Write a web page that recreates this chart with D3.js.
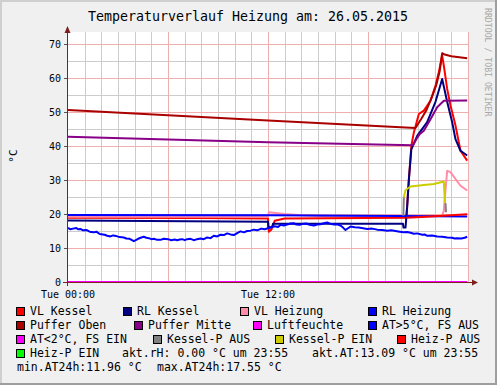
<!DOCTYPE html>
<html>
<head>
<meta charset="utf-8">
<script src="https://cdn.jsdelivr.net/npm/d3@7"></script>
<style>
  html, body { margin: 0; padding: 0; background: #f0f0f0; }
  svg { display: block; }
</style>
</head>
<body>
<div id="chart"></div>
<script>
// Temperaturverlauf Heizung - rrdtool style day graph
const title = "Temperaturverlauf Heizung am: 26.05.2015";
const yTicks = [0, 10, 20, 30, 40, 50, 60, 70];
const xLabels = [[0, "Tue 00:00"], [12, "Tue 12:00"]];

// series values: [hour, °C]
const vlKessel = [[0, 18.9], [7.8, 18.8], [12.0, 18.7], [12.05, 14.8], [12.2, 15.4], [12.4, 18.0], [13.0, 18.7],
  [20.3, 18.9], [20.45, 30], [20.6, 40], [20.75, 44], [21.05, 49.4], [21.35, 50.4], [21.75, 53.3], [22.05, 57.7],
  [22.25, 61.7], [22.45, 66.6], [22.55, 63.6], [22.75, 56.8], [22.95, 51.9], [23.25, 46], [23.55, 38.6], [23.95, 35.7]];
const rlKessel = [[0, 18.1], [12.0, 17.7], [12.02, 16.0], [12.25, 16.2], [12.3, 17.1], [20.1, 17.1], [20.13, 16.0],
  [20.25, 16.0], [20.35, 22], [20.45, 30], [20.6, 39], [20.95, 43], [21.55, 47], [22.05, 53], [22.45, 59.7],
  [22.75, 53], [23.05, 47], [23.25, 42], [23.55, 38.6], [23.95, 37.2]];
const vlHeizung = [[0, 19.2], [12.0, 19.2], [12.05, 20.5], [13.0, 20.0], [14.0, 19.6], [15.0, 19.4], [22.45, 19.5],
  [22.55, 21], [22.65, 27], [22.75, 32.7], [22.95, 32.3], [23.25, 30.3], [23.55, 28.3], [23.95, 26.9]];
const rlHeizung = [[0, 19.7], [12.0, 19.6], [20.0, 19.4], [23.95, 19.3]];
const pufferOben = [[0, 50.6], [12.0, 47.5], [20.85, 45.3], [21.2, 48], [21.5, 50.5], [21.8, 54], [22.1, 58],
  [22.3, 62], [22.45, 67.3], [22.6, 66.9], [23.0, 66.4], [23.95, 65.8]];
const pufferMitte = [[0, 42.7], [12.0, 41.1], [20.7, 40.2], [20.9, 42], [21.1, 43.5], [21.35, 44.5], [21.75, 47.9],
  [22.15, 51.4], [22.55, 53.3], [23.95, 53.4]];
const luftfeuchte = [[0, 0], [23.95, 0]];
const aussen = [[0, 15.9], [0.15, 15.5], [0.3, 15.7], [0.5, 15.9], [0.6, 15.5], [0.75, 15.6], [0.9, 15.2], [1.1, 15.3],
  [1.3, 14.8], [1.55, 14.6], [1.7, 14.8], [1.9, 14.1], [2.2, 13.9], [2.35, 13.6], [2.55, 13.4], [2.7, 13.7],
  [2.9, 13.5], [3.1, 13.2], [3.35, 13.1], [3.5, 12.8], [3.7, 12.7], [3.95, 12.0], [4.1, 12.4], [4.25, 12.8],
  [4.4, 13.1], [4.55, 13.3], [4.7, 13.0], [4.85, 12.9], [5.0, 12.6], [5.15, 12.7], [5.35, 12.4], [5.55, 12.4],
  [5.75, 12.7], [6.0, 12.6], [6.2, 12.3], [6.4, 12.5], [6.55, 12.3], [6.7, 12.5], [6.85, 12.6], [7.0, 12.3],
  [7.15, 12.6], [7.35, 12.7], [7.55, 12.3], [7.75, 12.6], [7.95, 12.8], [8.15, 12.6], [8.35, 13.1], [8.55, 12.9],
  [8.75, 13.6], [8.95, 13.4], [9.15, 13.9], [9.35, 13.8], [9.55, 14.3], [9.75, 14.0], [9.95, 13.8], [10.15, 14.4],
  [10.35, 14.9], [10.55, 14.6], [10.75, 15.0], [10.95, 15.1], [11.15, 15.4], [11.35, 15.2], [11.6, 15.7],
  [11.8, 15.5], [12.05, 15.9], [12.25, 16.2], [12.4, 16.4], [12.6, 16.2], [12.75, 16.8], [12.95, 16.6],
  [13.15, 16.9], [13.35, 17.2], [13.55, 17.3], [13.7, 16.9], [13.9, 16.8], [14.1, 17.1], [14.3, 17.2],
  [14.5, 16.8], [14.75, 16.6], [14.95, 16.9], [15.15, 17.0], [15.35, 17.3], [15.55, 17.5], [15.75, 17.1],
  [15.95, 16.9], [16.15, 17.0], [16.35, 16.6], [16.5, 16.0], [16.65, 15.3], [16.8, 15.8], [16.95, 16.3],
  [17.2, 16.1], [17.45, 16.0], [17.7, 15.8], [17.95, 15.6], [18.25, 15.7], [18.55, 15.4], [18.85, 15.3],
  [19.15, 15.1], [19.4, 15.2], [19.65, 15.0], [19.9, 14.8], [20.15, 14.6], [20.35, 14.7], [20.55, 14.5],
  [20.75, 14.2], [20.95, 14.3], [21.25, 13.9], [21.4, 14.0], [21.55, 13.6], [21.85, 13.7], [22.15, 13.4],
  [22.45, 13.3], [22.75, 13.1], [23.05, 13.0], [23.2, 12.8], [23.35, 12.9], [23.6, 12.8], [23.8, 13.0], [23.95, 13.3]];
const kesselPAus = [[20.12, 19.5], [20.15, 24.9], null, [22.65, 23.2], [22.68, 20.5]];
const kesselPEin = [[20.15, 24.9], [20.25, 27.0], [20.55, 28.1], [21.35, 28.5], [21.95, 28.8], [22.5, 29.5],
  [22.55, 29.5], [22.62, 23.2]];
const heizPAus = [[20.3, 18.9], [21.5, 19.2], [22.5, 19.5], [23.95, 19.9]];

const legendLabels = ["VL Kessel", "RL Kessel", "VL Heizung", "RL Heizung",
  "Puffer Oben", "Puffer Mitte", "Luftfeuchte", "AT>5°C, FS AUS",
  "AT<2°C, FS EIN", "Kessel-P AUS", "Kessel-P EIN", "Heiz-P AUS", "Heiz-P EIN"];
const legendColors = ["#ff0000", "#000080", "#ff8da8", "#0000ff",
  "#aa0000", "#880088", "#ff00ff", "#0000ff",
  "#ff00ff", "#808080", "#cccc00", "#ff0000", "#00ff00"];
const infoTexts = ["akt.rH: 0.00 °C um 23:55", "akt.AT:13.09 °C um 23:55",
  "min.AT24h:11.96 °C", "max.AT24h:17.55 °C"];

// drawing order follows legend order
const series = [
  [vlKessel, "#ff0000"], [rlKessel, "#000080"], [vlHeizung, "#ff8da8"], [rlHeizung, "#0000ff"],
  [pufferOben, "#aa0000"], [pufferMitte, "#880088"], [luftfeuchte, "#ff00ff"], [aussen, "#0000ff"],
  [kesselPAus, "#808080"], [kesselPEin, "#cccc00"], [heizPAus, "#ff0000"]
];

const W = 497, H = 385;
const font = "'DejaVu Sans Mono', monospace";

const svg = d3.select("#chart").append("svg")
  .attr("width", W).attr("height", H)
  .style("font-family", font);

// frame
svg.append("rect").attr("width", W).attr("height", H).attr("fill", "#f0f0f0");
svg.append("path").attr("d", `M0,${H} V0 H${W}`).attr("fill", "none")
  .attr("stroke", "#cfcfcf").attr("stroke-width", 4);
svg.append("path").attr("d", `M0,${H} H${W} V0`).attr("fill", "none")
  .attr("stroke", "#9e9e9e").attr("stroke-width", 4);

const x = d3.scaleLinear().domain([0, 24]).range([68, 468]);
const y = d3.scaleLinear().domain([0, 73.53]).range([282, 32]);
const px = v => Math.round(v) + 0.5;

svg.append("rect").attr("x", 67).attr("y", 32).attr("width", 401).attr("height", 251).attr("fill", "#fff");

// grid
const grid = svg.append("g").attr("shape-rendering", "crispEdges");
const hours = d3.range(1, 25);
grid.selectAll(".vmin").data(hours.filter(h => h % 6)).join("line")
  .attr("x1", d => px(x(d))).attr("x2", d => px(x(d)))
  .attr("y1", 32).attr("y2", 283).attr("stroke", "#cccccc");
grid.selectAll(".hmin").data(d3.range(5, 75, 10)).join("line")
  .attr("x1", 67).attr("x2", 468)
  .attr("y1", d => px(y(d))).attr("y2", d => px(y(d))).attr("stroke", "#cccccc");
grid.selectAll(".vmaj").data(hours.filter(h => h % 6 === 0)).join("line")
  .attr("x1", d => px(x(d))).attr("x2", d => px(x(d)))
  .attr("y1", 32).attr("y2", 283).attr("stroke", "#f0afaf");
grid.selectAll(".hmaj").data(yTicks.slice(1)).join("line")
  .attr("x1", 67).attr("x2", 468)
  .attr("y1", d => px(y(d))).attr("y2", d => px(y(d))).attr("stroke", "#f0afaf");

// y labels + ticks
svg.append("g").selectAll("text").data(yTicks).join("text")
  .attr("x", 61).attr("y", d => y(d) + 3.5)
  .attr("text-anchor", "end").attr("font-size", 10).attr("fill", "#000")
  .text(d => d);
grid.selectAll(".ytick").data(yTicks).join("line")
  .attr("x1", 64).attr("x2", 67)
  .attr("y1", d => px(y(d))).attr("y2", d => px(y(d))).attr("stroke", "#555");

svg.append("text")
  .attr("transform", "translate(17,156) rotate(-90)")
  .attr("text-anchor", "middle").attr("font-size", 11).text("°C");

// x labels
svg.append("g").selectAll("text").data(xLabels).join("text")
  .attr("x", d => x(d[0])).attr("y", 298)
  .attr("text-anchor", "middle").attr("font-size", 10).text(d => d[1]);

// data lines
const line = d3.line().defined(d => d != null).x(d => x(d[0])).y(d => y(d[1]));
svg.append("clipPath").attr("id", "clip")
  .append("rect").attr("x", 67).attr("y", 32).attr("width", 401).attr("height", 252);
svg.append("g").attr("clip-path", "url(#clip)")
  .attr("fill", "none").attr("stroke-width", 2).attr("stroke-linejoin", "round")
  .selectAll("path").data(series).join("path")
  .attr("stroke", d => d[1])
  .attr("d", d => line(d[0]));

// axes with arrows
const arrow = "#7f1f1f";
svg.append("line").attr("x1", 63).attr("x2", 473).attr("y1", 282.5).attr("y2", 282.5)
  .attr("stroke", arrow);
svg.append("path").attr("d", "M472,279.5 L478,282.5 L472,285.5 Z").attr("fill", arrow);
svg.append("line").attr("x1", 67.5).attr("x2", 67.5).attr("y1", 286).attr("y2", 28)
  .attr("stroke", arrow);
svg.append("path").attr("d", "M64.5,33 L67.5,26 L70.5,33 Z").attr("fill", arrow);

// title
svg.append("text").attr("x", 248).attr("y", 21).attr("text-anchor", "middle")
  .attr("font-size", 13.3).text(title);

// watermark
svg.append("text").attr("transform", "translate(485,8) rotate(90)")
  .attr("font-size", 8.2).attr("fill", "#a8a8a8").text("RRDTOOL / TOBI OETIKER");

// legend
const legendPos = [[16, 315], [123, 315], [240, 315], [368, 315],
  [16, 329], [134, 329], [253, 329], [368, 329],
  [16, 343], [153, 343], [275, 343], [397, 343],
  [16, 357]];
const leg = svg.append("g").selectAll("g").data(legendLabels).join("g")
  .attr("transform", (d, i) => `translate(${legendPos[i][0]},${legendPos[i][1]})`);
leg.append("rect").attr("x", 0.5).attr("y", -7.5).attr("width", 8).attr("height", 8)
  .attr("fill", (d, i) => legendColors[i]).attr("stroke", "#000");
leg.append("text").attr("x", 14).attr("y", 0).attr("font-size", 11.5).text(d => d);

const infoPos = [[122, 357], [312, 357], [17, 371], [157, 371]];
svg.append("g").selectAll("text").data(infoTexts).join("text")
  .attr("x", (d, i) => infoPos[i][0]).attr("y", (d, i) => infoPos[i][1])
  .attr("font-size", 11.5).text(d => d);
</script>
</body>
</html>
